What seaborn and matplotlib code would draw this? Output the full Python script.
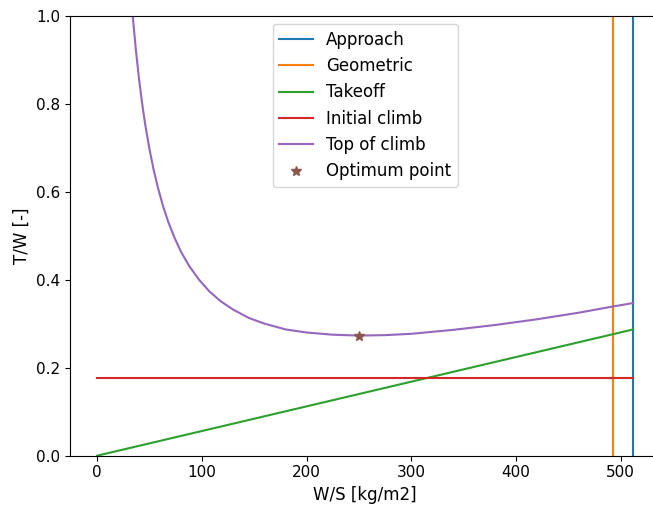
import matplotlib
matplotlib.use("Agg")
import matplotlib.pyplot as plt
import seaborn as sns

# ---- data ----
approach_ws = 512.0
geometric_ws = 493.0

takeoff_x = [0, 512]
takeoff_y = [0.0, 0.287]

climb_x = [0, 512]
climb_y = [0.1766, 0.1766]

toc_x = [31, 34, 37, 40, 43, 46, 50, 54, 58, 63, 68, 74, 80, 88, 97, 107,
         118, 130, 145, 160, 180, 200, 225, 250, 275, 300, 340, 380, 420,
         460, 490, 512]
toc_y = [1.093, 1.0, 0.923, 0.857, 0.801, 0.752, 0.697, 0.650, 0.610, 0.567,
         0.531, 0.495, 0.464, 0.431, 0.401, 0.374, 0.351, 0.332, 0.313,
         0.300, 0.287, 0.280, 0.275, 0.273, 0.274, 0.277, 0.286, 0.297,
         0.310, 0.325, 0.338, 0.347]

opt_x = [250]
opt_y = [0.273]

vline_y = [0.0, 1.0]

fig = plt.figure(figsize=(6.53, 5.12), dpi=100)
ax = fig.add_axes([70.3 / 653, 1 - 455.7 / 512, (660 - 70.3) / 653, (455.7 - 15.7) / 512])

sns.lineplot(x=[approach_ws] * 2, y=vline_y, orient="y", color="C0", lw=1.5,
             label="Approach", ax=ax)
sns.lineplot(x=[geometric_ws] * 2, y=vline_y, orient="y", color="C1", lw=1.5,
             label="Geometric", ax=ax)
sns.lineplot(x=takeoff_x, y=takeoff_y, color="C2", lw=1.5, label="Takeoff", ax=ax)
sns.lineplot(x=climb_x, y=climb_y, color="C3", lw=1.5, label="Initial climb", ax=ax)
sns.lineplot(x=toc_x, y=toc_y, color="C4", lw=1.5, label="Top of climb", ax=ax)
ax.plot(opt_x, opt_y, linestyle="none", marker="*", markersize=7, color="C5",
        label="Optimum point")

ax.set_xlim(-25.6, 537.6)
ax.set_ylim(0, 1.0)
ax.set_xticks([0, 100, 200, 300, 400, 500])
ax.set_yticks([0.0, 0.2, 0.4, 0.6, 0.8, 1.0])
ax.spines["right"].set_visible(False)
ax.tick_params(labelsize=11)
ax.set_xlabel("W/S [kg/m2]", fontsize=12)
ax.set_ylabel("T/W [-]", fontsize=12)
ax.legend(loc="upper center", fontsize=12)

fig.savefig("out.png", dpi=100)
